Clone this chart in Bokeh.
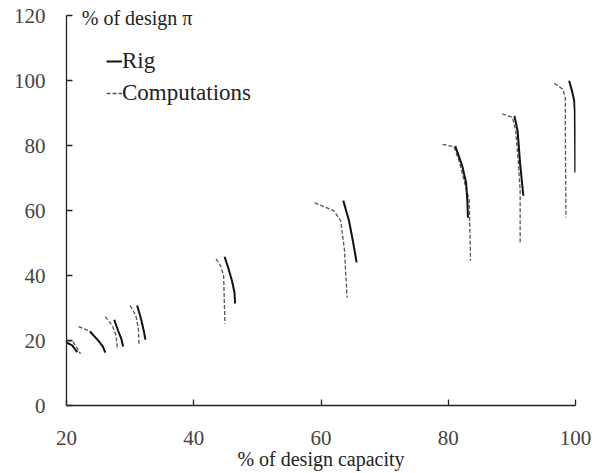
from bokeh.plotting import figure
from bokeh.models import FixedTicker, Label, Legend, LegendItem, LinearAxis
from bokeh.embed import file_html
from bokeh.resources import INLINE

# Rig measurements (solid), one list per operating line
rig_x = [
    [20.0, 20.9, 21.7],
    [23.7, 25.0, 25.7, 26.1],
    [27.5, 28.1, 28.6, 28.9],
    [31.1, 31.45, 31.8, 32.2, 32.4],
    [44.85, 45.4, 46.0, 46.4, 46.5],
    [63.5, 64.4, 65.0, 65.6],
    [81.1, 82.2, 82.8, 83.0, 83.1],
    [90.4, 90.9, 91.3, 91.8],
    [99.0, 99.45, 99.8, 99.9, 99.97],
]
rig_y = [
    [19.4, 18.5, 16.4],
    [22.8, 20.0, 18.2, 16.3],
    [26.4, 23.1, 20.6, 18.2],
    [30.8, 28.5, 26.0, 22.5, 20.3],
    [45.8, 42.5, 38.5, 34.8, 31.4],
    [63.1, 56.9, 50.8, 44.1],
    [79.9, 73.8, 68.6, 63.1, 57.8],
    [89.2, 84.6, 74.4, 64.6],
    [100.0, 96.9, 93.8, 90.8, 71.8],
]

# Computations (dashed)
comp_x = [
    [20.1, 21.0, 21.5, 22.2],
    [21.9, 23.4, 23.8],
    [26.1, 27.2, 27.8, 28.0],
    [30.0, 30.9, 31.3, 31.4],
    [43.5, 44.2, 44.7, 44.8, 44.9],
    [59.0, 62.0, 63.1, 63.7, 64.1],
    [79.1, 80.9, 81.7, 82.9, 83.3, 83.4, 83.5],
    [88.5, 90.1, 90.6, 91.0, 91.3, 91.3],
    [96.7, 98.0, 98.4, 98.4, 98.5],
]
comp_y = [
    [20.0, 19.7, 18.2, 15.9],
    [24.3, 23.1, 22.7],
    [27.4, 24.6, 21.5, 17.2],
    [30.8, 27.7, 23.7, 18.8],
    [45.2, 43.1, 40.0, 32.3, 25.2],
    [62.4, 60.0, 56.9, 47.7, 33.2],
    [80.4, 79.7, 75.4, 66.2, 63.1, 53.8, 44.6],
    [89.8, 88.7, 84.6, 75.4, 66.2, 50.2],
    [99.2, 97.4, 94.9, 84.6, 57.9],
]

x_ticks = [20, 40, 60, 80, 100]
y_ticks = [0, 20, 40, 60, 80, 100, 120]

FONT = "Liberation Serif"

p = figure(width=592, height=473, x_range=(20, 100), y_range=(0, 123.5),
           toolbar_location=None, output_backend="svg",
           x_axis_location=None, y_axis_location=None,
           min_border_left=66, min_border_right=17, min_border_top=4,
           min_border_bottom=68)
p.outline_line_color = None
p.background_fill_color = "white"
p.border_fill_color = "white"
p.xgrid.visible = False
p.ygrid.visible = False

comp = p.multi_line(comp_x, comp_y, line_color="#555555", line_width=1.3,
                    line_dash="4 2")
rig = p.multi_line(rig_x, rig_y, line_color="#111111", line_width=2)


def make_axis(ticks, **kw):
    return LinearAxis(
        ticker=FixedTicker(ticks=ticks),
        axis_line_color="#222222", axis_line_width=1.3,
        major_tick_line_color="#222222", major_tick_line_width=1.3,
        major_tick_in=6, major_tick_out=0, minor_tick_line_color=None,
        major_label_text_font="serif", major_label_text_font_size="21px",
        **kw)


xaxis = make_axis(x_ticks, major_label_standoff=25,
                  axis_label="% of design capacity",
                  axis_label_text_font=FONT, axis_label_text_font_size="20px",
                  axis_label_text_font_style="normal",
                  axis_label_text_color="#222222", axis_label_standoff=0)
yaxis = make_axis(y_ticks, major_label_standoff=21, bounds=(0, 120))
p.add_layout(xaxis, "below")
p.add_layout(yaxis, "left")

p.add_layout(Label(x=22.4, y=119.4, text="% of design \u03c0", text_baseline="middle",
                   text_font=FONT, text_font_size="20px", text_color="#222222"))

legend = Legend(items=[LegendItem(label="Rig", renderers=[rig]),
                       LegendItem(label="Computations", renderers=[comp])],
                location=(40, 299), orientation="vertical",
                label_text_font=FONT, label_text_font_size="23px",
                label_text_color="#222222",
                glyph_width=16, glyph_height=20, label_standoff=0,
                padding=0, margin=0, spacing=6,
                border_line_color=None, background_fill_alpha=0)
p.add_layout(legend)

open("out.html", "w").write(file_html(p, INLINE))
